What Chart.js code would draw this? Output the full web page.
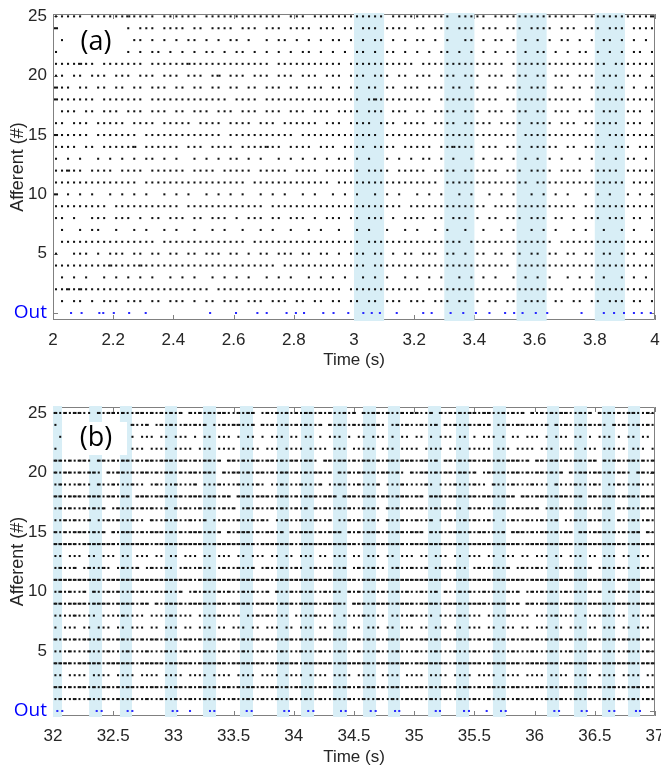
<!DOCTYPE html>
<html lang="en">
<head>
  <meta charset="UTF-8">
  <title>Afferent raster</title>
  <script src="https://cdn.jsdelivr.net/npm/chart.js"></script>
  <style>
    body { margin: 0; padding: 0; background: #fff; overflow: hidden; }
    canvas { display: block; }
  </style>
</head>
<body>
  <canvas id="chartA" width="661" height="382"></canvas>
  <canvas id="chartB" width="661" height="383"></canvas>

  <script>
    // ---- tick labels ----
    const xTicksA = [2, 2.2, 2.4, 2.6, 2.8, 3, 3.2, 3.4, 3.6, 3.8, 4];
    const xTickLabelsA = ['2', '2.2', '2.4', '2.6', '2.8', '3', '3.2', '3.4', '3.6', '3.8', '4'];
    const xTicksB = [32, 32.5, 33, 33.5, 34, 34.5, 35, 35.5, 36, 36.5, 37];
    const xTickLabelsB = ['32', '32.5', '33', '33.5', '34', '34.5', '35', '35.5', '36', '36.5', '37'];
    const yTicks = [0, 5, 10, 15, 20, 25];
    const yTickLabels = ['Out', '5', '10', '15', '20', '25'];

    // ---- pattern windows (s) ----
    const windowsA = [[3.0, 3.1], [3.3, 3.4], [3.54, 3.64], [3.8, 3.9]];
    const windowsB = [[31.97, 32.075], [32.3, 32.407], [32.556, 32.656], [32.93, 33.03], [33.246, 33.354],
      [33.553, 33.661], [33.86, 33.96], [34.06, 34.168], [34.326, 34.442], [34.575, 34.683],
      [34.782, 34.882], [35.115, 35.223], [35.347, 35.455], [35.654, 35.762], [36.103, 36.203],
      [36.327, 36.435], [36.56, 36.668], [36.776, 36.876]];

    // ---- output neuron spikes (s) ----
    const outA = [2.06, 2.095, 2.154, 2.167, 2.202, 2.253, 2.308, 2.522, 2.608, 2.679, 2.71, 2.776,
      2.807, 2.834, 2.898, 2.932, 2.981, 3.031, 3.059, 3.086, 3.142, 3.23, 3.258, 3.321, 3.363,
      3.405, 3.45, 3.502, 3.532, 3.56, 3.604, 3.642, 3.756, 3.83, 3.864, 3.897, 3.93, 3.956, 3.986];
    const outB = [32.036, 32.077, 32.363, 32.404, 32.62, 32.659, 32.994, 33.032, 33.138, 33.304,
      33.34, 33.609, 33.65, 33.921, 33.96, 34.12, 34.162, 34.392, 34.431, 34.639, 34.68, 34.841,
      34.876, 35.179, 35.214, 35.414, 35.455, 35.602, 35.721, 35.76, 36.164, 36.203, 36.391,
      36.433, 36.62, 36.662, 36.842, 36.875];

    // ---- afferent spikes: one string per afferent (25 first), one digit per bin = spike count ----
    const binA = 0.02;   // panel (a) starts at 2 s
    const rasterA = [
      '1111101111 1121111011 1111011111 1111111101 1101111111 1111101111 1111110111 1101111111 1111111011 1111111112',
      '2000001011 1110111011 1101101111 0111011101 1110111011 0111011110 1101110111 0111011101 1110111011 1011101111',
      '0100000001 0101101010 1011010101 1010010110 1010101101 0101101010 1101010011 0101101010 1010110101 0110101010',
      '1010000000 1010101101 0101011010 1101010101 0110101010 1101011010 1010110101 0101011010 1101010110 1010101101',
      '1111211011 1111101111 1121111111 1111110111 1111111101 1111111111 0111111111 1111101111 1111111111 1101111111',
      '1101101110 1110111011 1011101201 1101110111 0111011101 1101110110 1110111011 1011101110 1101110111 0111011101',
      '2110110110 1101101110 1101101101 1011011101 1011101101 1011011011 1011101101 1011011101 1101101101 1101101011',
      '2111111011 1111101111 1111111110 1111011111 1111111111 1012111111 1110111111 1111011111 1111111101 1111111111',
      '0111011011 1011101110 1101110111 0111011101 1101110111 1011101110 1101111011 1011101110 1101110111 0111011101',
      '1101110111 1101111011 1110111101 1110111011 1111011101 1110111011 1101111011 1110111101 1110111011 1111011101',
      '2111110111 1111011111 1111111101 1111111111 0111111111 1111011111 1111111111 1111111011 1111111111 1011111111',
      '1111011011 1112011111 1011101111 0111121101 1110111011 1101111011 1110112111 0111011101 1111011011 1101110111',
      '1010100101 0101011010 1001010101 1010100101 0101010110 1010010101 0110101001 0101101010 1010100101 0101011010',
      '1121101111 0111101111 1101111011 1110111110 1111011111 1011110111 1101111011 1111011101 1110111101 1111011111',
      '1111111111 1111011111 1111111111 1101111111 1111110111 1111111111 1111011111 1111111110 1111111111 1111101111',
      '2010101001 0101010010 1010010101 0100101010 0101001010 1001010100 1010100101 0010101001 0101010010 1010010101',
      '1111111110 1111111111 1011111111 1111101111 1111111111 1111111101 1111111111 1101111111 1111111011 1111111111',
      '1101001110 1110101101 1101101110 1011101101 1101011101 1011101011 1101101110 1011011101 1101101011 1011101101',
      '0100101100 1001010010 1001001010 0100101001 0010100100 1010010010 1001010010 0100101001 0101001010 0100101001',
      '0111111111 1111111011 1111111111 1101111111 1111111111 1011111111 1111111101 1111111111 1110111111 1111111111',
      '1001110101 1101101101 1011011101 1010110111 0110110101 1101101011 0111011010 1101101101 1011011011 0110111011',
      '1111111112 1111211111 1111111111 1111111011 1111111111 1101111111 1111111111 1111110111 1111111111 1111111111',
      '0101010010 1010101001 0101001010 1010010101 0010101010 0101010010 1010100101 0101001010 1010010101 0100101010',
      '1121211111 1111111111 1111110111 1111111111 1111111101 1111111111 1011111111 1111111111 1111101111 1111111111',
      '0101101011 1011101101 1101011011 1011101110 1101101101 1011011101 1101110110 1011011011 1101101101 1011101101'
    ];

    const binB = 0.04;   // panel (b) starts at 32 s
    const rasterB = [
      '2121221102122121122121212 1202121212211212201212121 2122121211212021221211212 2112021212122122112121202 1212122112120212121221121',
      '1010000000000000211201212 1121212011212211202121121 2121120212112121221012121 1211202121121212011212212 1120212112121210212112121',
      '0100100000000000101110110 1110101101110101101011101 1011010111010110111010110 1101011101101011101011011 1010111011010111010110110',
      '1001000000000000111011110 1111011101111011110111011 1101111011101111101110111 1011110111011111011101111 0111011110111011111011101',
      '2212122102212122121221222 1221212212022121221221212 2122102212212122121221222 1221202212122122121222120 2212212122122021221221212',
      '2122121221021221212212122 1212212210212212122121221 2121221202121221212212102 1221212212212012212122121 2212120212212212122102212',
      '1211121102112111211012111 2111201112111211121011211 1211120112111211120111211 1121011121112110211121112 1110211121112101121112111',
      '2212221222122122022212221 2212221221220222122212221 2122212220222122212212221 2202221222122122212220221 2221222122022122212221222',
      '1212112121201211212121120 2121121211212012121121211 2120212112121121210212112 1211212121021211212112121 2012121121211212021211212',
      '1121211201121211211021121 2112112011211211212101121 1211211201121211210211211 2112011211212112101121121 1211201121121211021121121',
      '2121222121202122212122212 1212221212021222121221202 1222121222021212221212212 2202121222121221212022212 1221212202212221212122021',
      '2222212222222122222212222 2222222122222222212222222 1222222222222122222222212 2222222222122222222222122 2222222212222222222122222',
      '1101110110111011011101101 1011101101110110111011011 0111011011101101110110111 0110111011011101101110110 1110110111011011101101110',
      '1211201211210121120121121 0121121101211211201211211 2101211211201211211012112 1120121121101211211201211 2110121121120121121101211',
      '2222222222122222222222222 2222122222222222222212222 2222222222222122222222222 2222222122222222222222212 2222222222222222122222222',
      '1212112021121211212112121 1201212112121121211202112 1212112121021211212112121 1211202112121121211212012 1212112121121201212112121',
      '2212222122221222212202122 2212222122212222122221222 1222212222102221222212222 1222212222122221222212022 1222212222122221222212222',
      '1111211110111121111011112 1111011112111101121211110 1111211110111121111011112 1111011112111101111211110 1111211110111121111011112',
      '1011101101110110111011011 1011011101101110110111011 0111011011101101110110111 0110111011011101101110110 1110110111011011101101110',
      '2121212212121221212122121 2122121212212121221212122 1212122121212212121221212 1221212122121212212121221 2121221212122121212212121',
      '1112111211121112111211121 1121112111211121112111211 1211121112111211121112111 2111211121112111211121112 1112111211121112111211121',
      '2222122222122222212222212 2222122222212222222122222 2122222212222222122222221 2222222122222212222222122 2222212222222122222221222',
      '1101111011110111101111011 1101111011110111101111011 1101111011110111101111011 1101111011110111101111011 1101111011110111101111011',
      '2212122121221212212122121 2212122121221212212122121 2212122121221212212122121 2212122121221212212122121 2212122121221212212122121',
      '1211211211211211211211211 2112112112112112112112112 1121121121121121121121121 2112112112112112112112112 1121121121121121121121121'
    ];

    // Turn the per-bin spike counts into (time, afferent) points
    function decodeRaster(rows, t0, bin) {
      const pts = [];
      rows.forEach((row, i) => {
        const aff = rows.length - i;
        row.replace(/ /g, '').split('').forEach((c, k) => {
          const n = +c;
          for (let j = 1; j <= n; j++) pts.push({ x: t0 + (k + j / (n + 1)) * bin, y: aff });
        });
      });
      return pts;
    }

    const AXIS_GREY = '#808080';
    const TEXT = '#262626';

    // box, inward ticks, shaded windows and the panel letter
    const panelPlugin = {
      id: 'panel',
      beforeDatasetsDraw(chart, args, opts) {
        const { ctx, chartArea: a, scales: { x, y } } = chart;
        ctx.save();
        ctx.strokeStyle = AXIS_GREY;
        ctx.lineWidth = 1;
        ctx.beginPath();
        ctx.rect(Math.round(a.left) + 0.5, Math.round(a.top) + 0.5, Math.round(a.width) - 1, Math.round(a.height) - 1);
        opts.xTicks.forEach(v => {
          const px = Math.round(x.getPixelForValue(v)) + 0.5;
          ctx.moveTo(px, a.bottom); ctx.lineTo(px, a.bottom - 5);
          ctx.moveTo(px, a.top); ctx.lineTo(px, a.top + 5);
        });
        yTicks.forEach(v => {
          const py = Math.round(y.getPixelForValue(v)) + 0.5;
          ctx.moveTo(a.left, py); ctx.lineTo(a.left + 5, py);
          ctx.moveTo(a.right, py); ctx.lineTo(a.right - 5, py);
        });
        ctx.stroke();

        ctx.fillStyle = 'rgb(216,238,246)';
        opts.windows.forEach(([t1, t2]) => {
          const p1 = Math.max(x.getPixelForValue(t1), a.left);
          const p2 = Math.min(x.getPixelForValue(t2), a.right);
          ctx.fillRect(p1, a.top - 1, p2 - p1, a.height + 2);
        });
        ctx.restore();
      },
      afterDatasetsDraw(chart, args, opts) {
        const { ctx, chartArea: a } = chart;
        ctx.save();
        ctx.fillStyle = '#fff';
        ctx.fillRect(a.left + 10, a.top + opts.boxTop, 64, opts.boxH);
        ctx.fillStyle = '#000';
        ctx.font = '27px "Open Sans"';
        ctx.textAlign = 'center';
        ctx.textBaseline = 'middle';
        ctx.fillText(opts.letter, a.left + 43, a.top + opts.textY);
        ctx.restore();
      }
    };

    function makeChart(id, cfg) {
      return new Chart(document.getElementById(id), {
        type: 'scatter',
        data: {
          datasets: [
            {
              data: decodeRaster(cfg.raster, cfg.min, cfg.bin),
              backgroundColor: '#111',
              pointStyle: 'rect',
              pointRadius: 1.45,
              borderWidth: 0
            },
            {
              data: cfg.out.map(t => ({ x: t, y: 0 })),
              backgroundColor: '#2a2aff',
              pointStyle: 'rect',
              pointRadius: 1.45,
              borderWidth: 0
            }
          ]
        },
        options: {
          responsive: false,
          animation: false,
          events: [],
          layout: { padding: { top: cfg.padTop, right: 6, left: 0, bottom: 0 } },
          plugins: {
            legend: { display: false },
            tooltip: { enabled: false },
            panel: { xTicks: cfg.xTicks, windows: cfg.windows, letter: cfg.letter, boxTop: cfg.boxTop, boxH: cfg.boxH, textY: cfg.textY }
          },
          scales: {
            x: {
              type: 'linear',
              min: cfg.min,
              max: cfg.max,
              grid: { display: false, drawTicks: false },
              border: { display: false },
              afterBuildTicks: s => { s.ticks = cfg.xTicks.map(v => ({ value: v })); },
              afterFit: s => { s.height = cfg.xAxisH; s.paddingLeft = 0; s.paddingRight = 0; },
              ticks: {
                padding: 10,
                maxRotation: 0,
                autoSkip: false,
                color: TEXT,
                font: { family: 'Liberation Sans', size: 17 },
                callback: v => cfg.xLabels[cfg.xTicks.indexOf(v)]
              },
              title: {
                display: true,
                text: 'Time (s)',
                color: TEXT,
                font: { family: 'Liberation Sans', size: 17 },
                padding: { top: 0, bottom: cfg.titlePad }
              }
            },
            y: {
              type: 'linear',
              min: cfg.yMin,
              max: cfg.yMax,
              grid: { display: false, drawTicks: false },
              border: { display: false },
              afterBuildTicks: s => { s.ticks = yTicks.map(v => ({ value: v })); },
              afterFit: s => { s.width = 53; s.paddingTop = 0; s.paddingBottom = 0; },
              ticks: {
                padding: 6,
                color: c => (c.tick && c.tick.value === 0) ? '#0000ff' : TEXT,
                font: c => (c.tick && c.tick.value === 0)
                  ? { family: 'Open Sans', size: 19 }
                  : { family: 'Liberation Sans', size: 17 },
                callback: v => yTickLabels[yTicks.indexOf(v)]
              },
              title: {
                display: true,
                text: 'Afferent (#)',
                color: TEXT,
                font: { family: 'Liberation Sans', size: 18 },
                padding: { top: 7, bottom: 0 }
              }
            }
          }
        },
        plugins: [panelPlugin]
      });
    }

    makeChart('chartA', {
      raster: rasterA, bin: binA, out: outA, windows: windowsA,
      min: 2, max: 4, yMin: -0.59, yMax: 25.2,
      xTicks: xTicksA, xLabels: xTickLabelsA,
      padTop: 14, xAxisH: 62, titlePad: 11,
      letter: '(a)', boxTop: 11, boxH: 31, textY: 28
    });

    makeChart('chartB', {
      raster: rasterB, bin: binB, out: outB, windows: windowsB,
      min: 32, max: 37, yMin: -0.42, yMax: 25.5,
      xTicks: xTicksB, xLabels: xTickLabelsB,
      padTop: 25, xAxisH: 49, titlePad: -3,
      letter: '(b)', boxTop: 15, boxH: 33, textY: 31
    });
  </script>
</body>
</html>
